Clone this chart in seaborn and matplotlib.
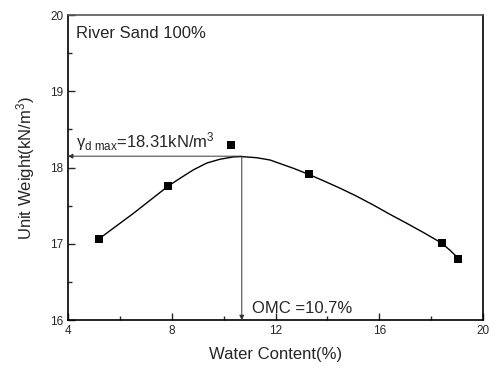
import matplotlib
matplotlib.use('Agg')
import matplotlib.pyplot as plt
import seaborn as sns
from matplotlib.ticker import MultipleLocator

sns.set_style("ticks")
plt.rcParams['font.family'] = ['Liberation Sans', 'DejaVu Sans']
plt.rcParams['mathtext.fontset'] = 'custom'
plt.rcParams['mathtext.rm'] = 'Liberation Sans'
plt.rcParams['mathtext.it'] = 'Liberation Sans'

# puntos medidos (ensayo de compactación)
agua = [5.21, 7.87, 10.27, 13.30, 18.41, 19.05]
peso = [17.07, 17.76, 18.30, 17.91, 17.01, 16.80]

# curva ajustada
curva_x = [5.21, 6.52, 7.87, 8.32, 8.83, 9.35, 9.86, 10.37, 10.67, 11.27,
           11.79, 12.20, 12.70, 13.29, 13.90, 14.49, 15.10, 15.77, 16.40,
           17.06, 17.70, 18.41, 18.75, 19.05]
curva_y = [17.07, 17.40, 17.76, 17.86, 17.97, 18.06, 18.11, 18.14, 18.145, 18.13,
           18.10, 18.05, 17.99, 17.91, 17.82, 17.73, 17.63, 17.51, 17.39,
           17.27, 17.15, 17.01, 16.91, 16.81]

omc = 10.7
gd_max = 18.15

fig = plt.figure(figsize=(5.0, 3.68), dpi=100)
ax = fig.add_axes([0.136, 0.130, 0.830, 0.829])

sns.lineplot(x=curva_x, y=curva_y, sort=False, color='black', lw=1.0, ax=ax)
sns.scatterplot(x=agua, y=peso, marker='s', s=34, color='black',
                edgecolor='black', linewidth=0, zorder=3, ax=ax)

# flechas al eje
ax.annotate('', xy=(4.0, gd_max), xytext=(omc, gd_max),
            arrowprops=dict(arrowstyle='-|>', color='#333333', lw=0.7,
                            mutation_scale=7, shrinkA=0, shrinkB=0))
ax.annotate('', xy=(omc, 16.0), xytext=(omc, gd_max),
            arrowprops=dict(arrowstyle='-|>', color='#333333', lw=0.7,
                            mutation_scale=7, shrinkA=0, shrinkB=0))

ax.text(4.3, gd_max + 0.04, r'$\gamma_{\rm d\ max}$=18.31kN/m$^3$',
        fontsize=12, va='bottom', ha='left')
ax.text(11.08, 16.05, 'OMC =10.7%', fontsize=12, va='bottom', ha='left')
ax.text(4.3, 19.76, 'River Sand 100%', fontsize=12, va='center', ha='left')

ax.set_xlim(4, 20)
ax.set_ylim(16, 20)
ax.xaxis.set_major_locator(MultipleLocator(4))
ax.xaxis.set_minor_locator(MultipleLocator(2))
ax.yaxis.set_major_locator(MultipleLocator(1))
ax.yaxis.set_minor_locator(MultipleLocator(0.5))
ax.tick_params(which='both', direction='in', labelsize=8.5, width=1.0)
ax.tick_params(which='major', length=5)
ax.tick_params(which='minor', length=3)
ax.set_xlabel('Water Content(%)', fontsize=12, labelpad=7)
ax.set_ylabel('Unit Weight(kN/m$^3$)', fontsize=12, labelpad=9)
for lado in ['top', 'right', 'bottom', 'left']:
    ax.spines[lado].set_visible(True)
    ax.spines[lado].set_color('black')
    ax.spines[lado].set_linewidth(1.2)
ax.spines['top'].set_color('#555555')

plt.savefig('out.png', dpi=100)
